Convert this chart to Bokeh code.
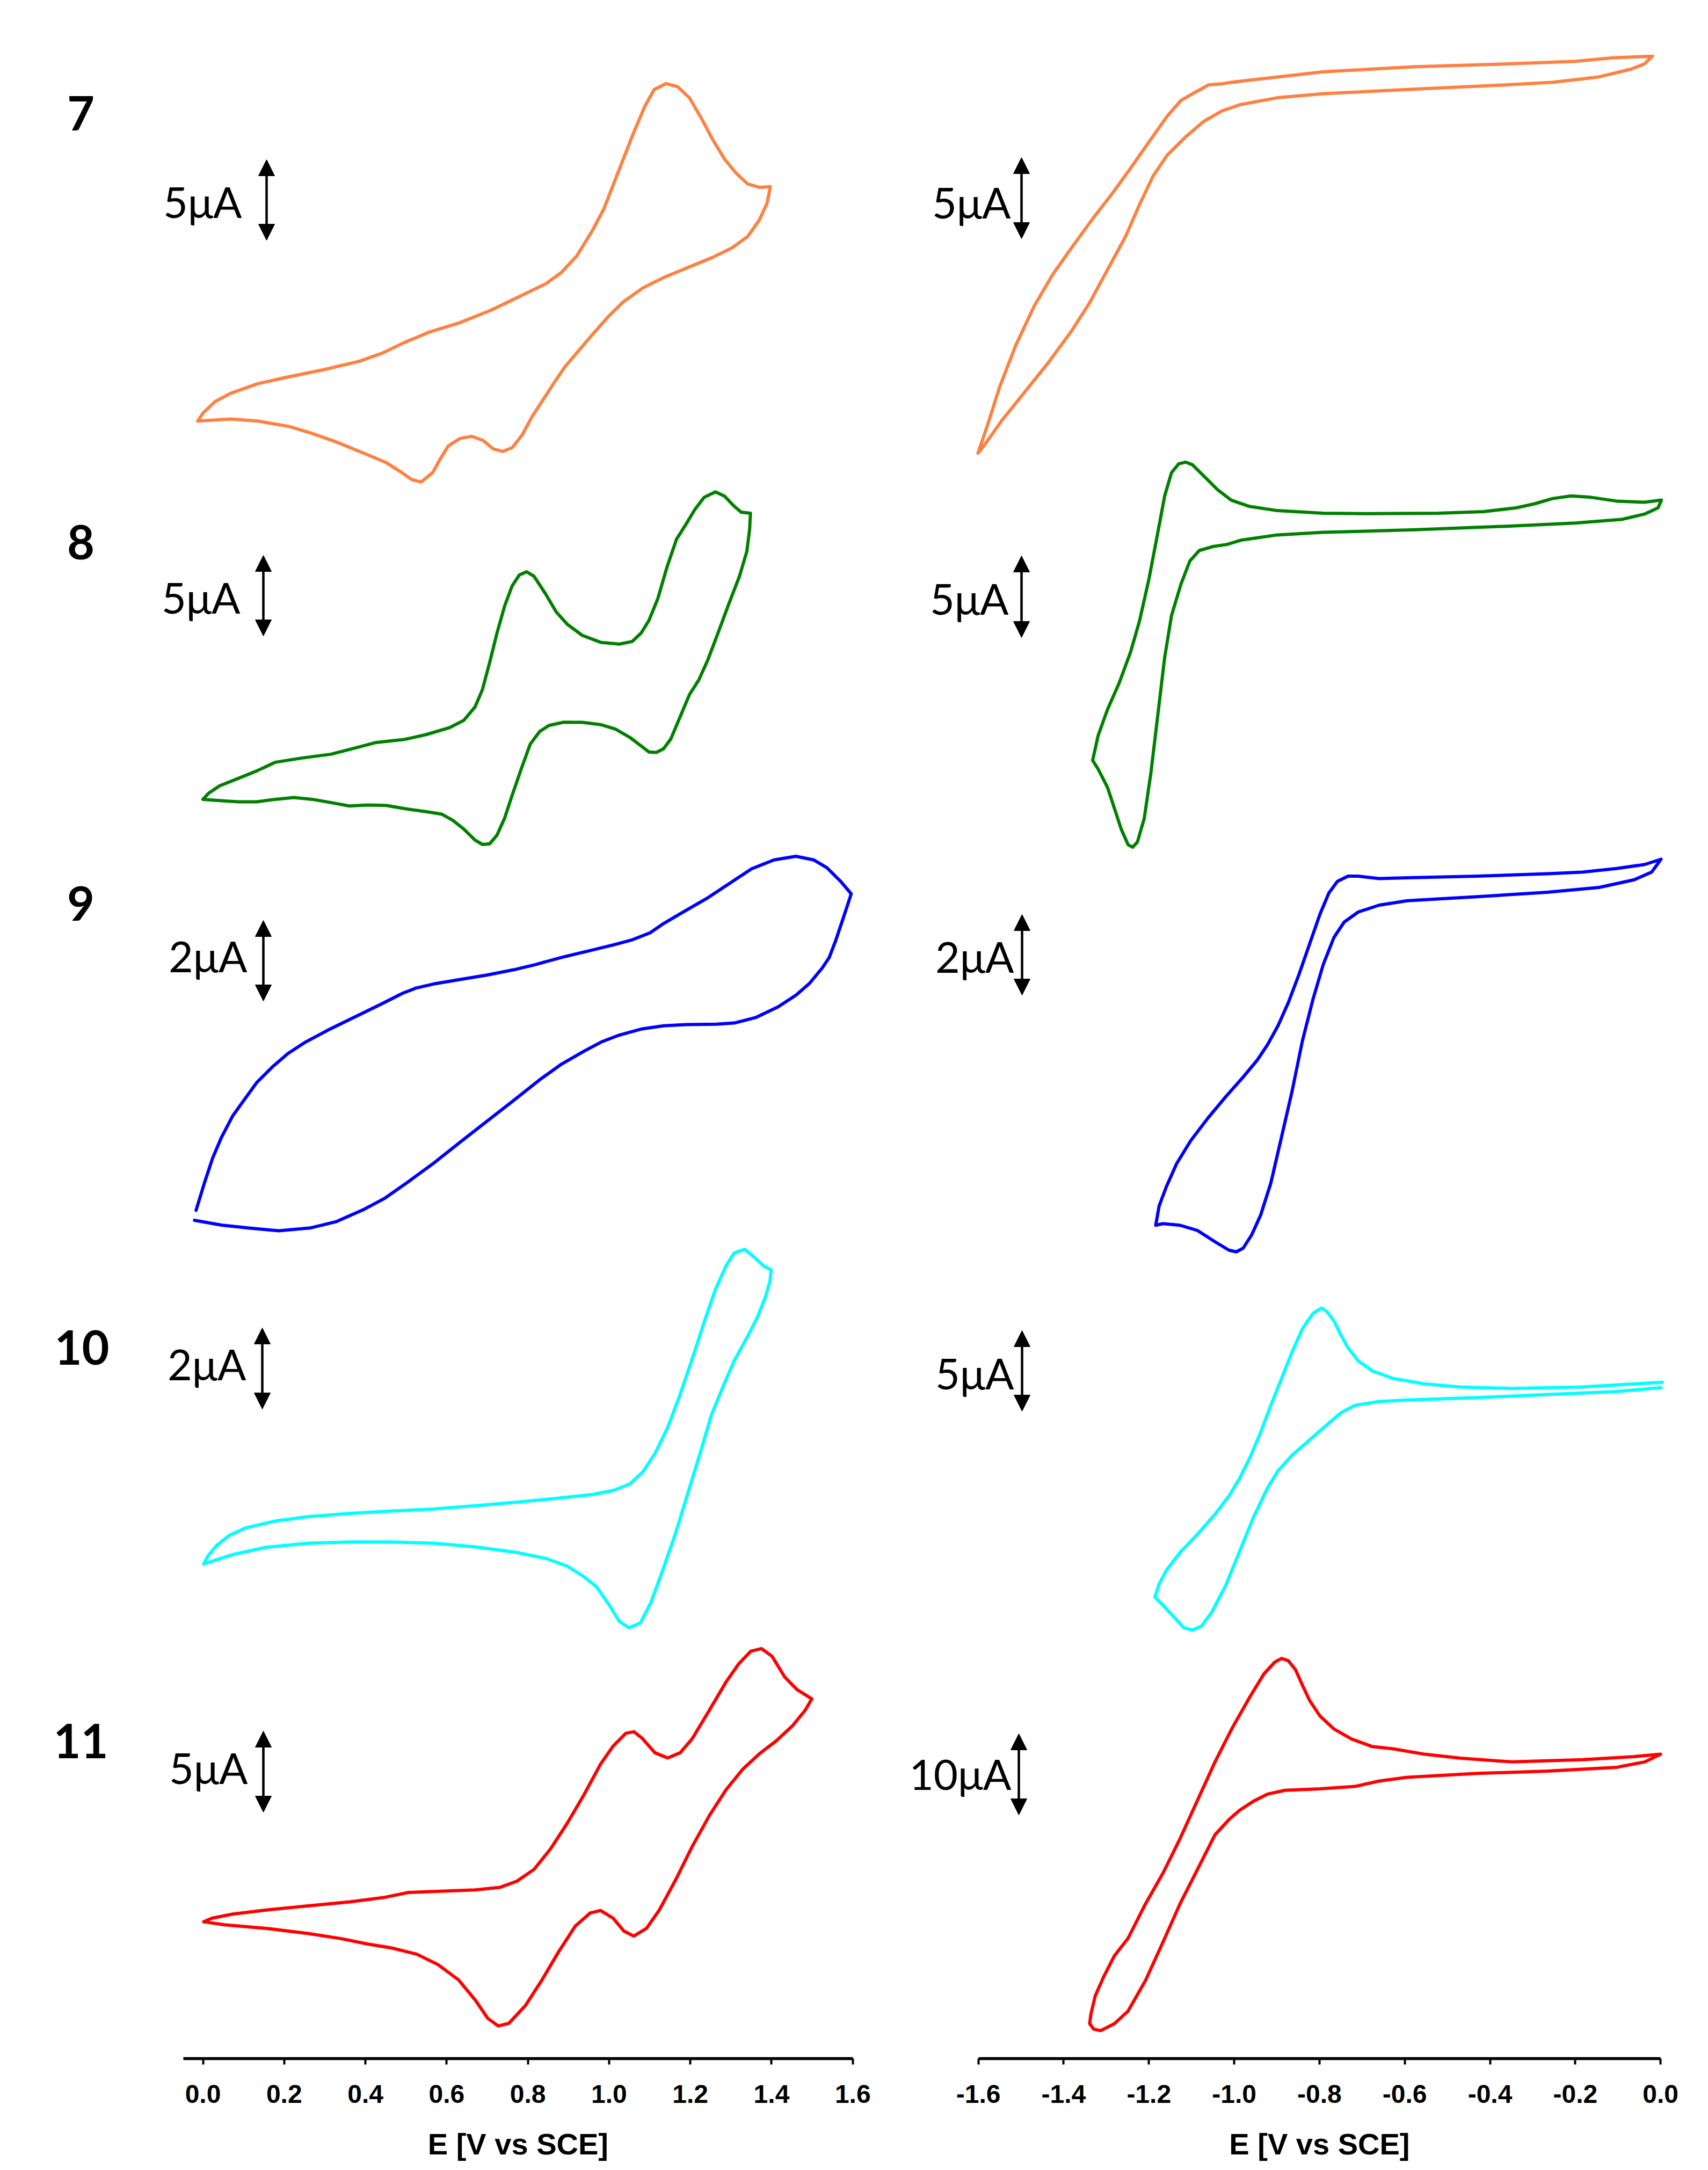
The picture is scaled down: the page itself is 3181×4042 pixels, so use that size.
from bokeh.plotting import figure
from bokeh.layouts import row, column
from bokeh.models import Range1d, FixedTicker, PrintfTickFormatter, Arrow, NormalHead
from bokeh.core.properties import value
from bokeh.embed import file_html
from bokeh.resources import INLINE

# ---------------- data: potential E (V vs SCE) and current I (uA) ----------------
# Left column: oxidation scans
E_7L = [-0.013, 0.001, 0.030, 0.068, 0.135, 0.212, 0.298, 0.384, 0.442, 0.499, 0.556, 0.633, 0.710, 0.767, 0.844, 0.882, 0.920, 0.958, 0.987, 1.011, 1.035, 1.059, 1.088, 1.111, 1.140, 1.169, 1.198, 1.226, 1.255, 1.284, 1.312, 1.341, 1.370, 1.397,
        1.389, 1.370, 1.341, 1.303, 1.255, 1.188, 1.131, 1.083, 1.035, 0.997, 0.958, 0.920, 0.891, 0.863, 0.839, 0.810, 0.786, 0.762, 0.738, 0.714, 0.690, 0.662, 0.633, 0.604, 0.585, 0.566, 0.537, 0.513, 0.489, 0.451, 0.394, 0.327, 0.269, 0.212, 0.135, 0.068, -0.013]
I_7L = [0, 0.52, 1.21, 1.72, 2.32, 2.75, 3.19, 3.70, 4.22, 4.91, 5.51, 6.11, 6.89, 7.58, 8.52, 9.21, 10.24, 11.79, 13.17, 14.72, 16.27, 17.82, 19.54, 20.58, 20.95, 20.75, 20.06, 18.85, 17.48, 16.27, 15.41, 14.72, 14.51, 14.55,
        13.52, 12.48, 11.45, 10.76, 10.16, 9.47, 8.87, 8.26, 7.40, 6.46, 5.34, 4.22, 3.36, 2.32, 1.38, 0.26, -0.86, -1.64, -1.89, -1.72, -1.21, -0.95, -1.08, -1.55, -2.32, -3.19, -3.79, -3.62, -3.19, -2.58, -1.98, -1.29, -0.77, -0.34, 0, 0.12, 0]

E_8L = [0.000, 0.014, 0.041, 0.087, 0.132, 0.178, 0.242, 0.315, 0.378, 0.424, 0.497, 0.551, 0.606, 0.642, 0.670, 0.688, 0.706, 0.724, 0.743, 0.761, 0.779, 0.797, 0.815, 0.843, 0.870, 0.897, 0.934, 0.979, 1.025, 1.057, 1.079, 1.098, 1.120, 1.143, 1.166, 1.189, 1.211, 1.234, 1.262, 1.284, 1.307, 1.325, 1.348,
        1.346, 1.339, 1.321, 1.293, 1.266, 1.243, 1.221, 1.198, 1.175, 1.152, 1.134, 1.116, 1.098, 1.080, 1.052, 1.016, 0.979, 0.934, 0.888, 0.852, 0.829, 0.806, 0.784, 0.761, 0.743, 0.724, 0.706, 0.688, 0.670, 0.642, 0.615, 0.588, 0.551, 0.497, 0.451, 0.406, 0.360, 0.315, 0.269, 0.224, 0.178, 0.132, 0.087, 0.041, 0.000]
I_8L = [0, 0.38, 0.84, 1.30, 1.76, 2.30, 2.56, 2.80, 3.21, 3.52, 3.72, 4.03, 4.44, 4.90, 5.74, 6.81, 8.50, 10.33, 12.02, 13.24, 13.93, 14.13, 13.85, 12.78, 11.63, 10.87, 10.18, 9.75, 9.64, 9.80, 10.33, 11.10, 12.47, 14.46, 16.15, 17.07, 17.99, 18.75, 19.09, 18.83, 18.22, 17.83, 17.76,
        16.76, 15.38, 13.85, 12.02, 10.18, 8.65, 7.42, 6.51, 5.13, 3.75, 3.14, 2.91, 2.94, 3.29, 3.83, 4.36, 4.64, 4.78, 4.79, 4.59, 4.21, 3.44, 1.91, 0.23, -1.15, -2.22, -2.76, -2.80, -2.53, -1.84, -1.30, -0.92, -0.77, -0.58, -0.38, -0.35, -0.41, -0.20, 0, 0.11, 0, -0.15, -0.15, -0.08, 0]

E_9L = [-0.017, 0.003, 0.024, 0.046, 0.073, 0.100, 0.133, 0.171, 0.209, 0.253, 0.307, 0.372, 0.437, 0.492, 0.525, 0.568, 0.633, 0.699, 0.764, 0.818, 0.883, 0.949, 1.014, 1.058, 1.101, 1.134, 1.188, 1.243, 1.297, 1.351, 1.406, 1.460, 1.504, 1.536, 1.569, 1.596,
        1.591, 1.574, 1.558, 1.542, 1.525, 1.493, 1.460, 1.416, 1.362, 1.308, 1.264, 1.188, 1.134, 1.079, 1.025, 0.981, 0.938, 0.883, 0.829, 0.764, 0.699, 0.633, 0.568, 0.503, 0.448, 0.394, 0.329, 0.264, 0.187, 0.111, 0.046, -0.021]
I_9L = [0.12, 0.78, 1.42, 1.94, 2.46, 2.84, 3.30, 3.68, 4.01, 4.30, 4.59, 4.91, 5.23, 5.51, 5.64, 5.74, 5.85, 5.96, 6.09, 6.22, 6.40, 6.56, 6.72, 6.84, 7.01, 7.24, 7.56, 7.88, 8.24, 8.60, 8.82, 8.91, 8.82, 8.63, 8.30, 7.98,
        7.82, 7.30, 6.82, 6.40, 6.14, 5.75, 5.46, 5.17, 4.91, 4.77, 4.74, 4.73, 4.70, 4.62, 4.47, 4.30, 4.07, 3.75, 3.36, 2.84, 2.33, 1.81, 1.29, 0.81, 0.42, 0.13, -0.16, -0.32, -0.39, -0.32, -0.25, -0.13]

E_10L = [0.002, 0.012, 0.033, 0.064, 0.105, 0.177, 0.259, 0.362, 0.465, 0.568, 0.670, 0.773, 0.876, 0.959, 1.010, 1.051, 1.082, 1.113, 1.144, 1.175, 1.205, 1.236, 1.262, 1.288, 1.308, 1.334, 1.360, 1.380, 1.399,
         1.396, 1.385, 1.365, 1.339, 1.308, 1.283, 1.252, 1.226, 1.195, 1.164, 1.133, 1.103, 1.077, 1.049, 1.025, 1.000, 0.969, 0.938, 0.897, 0.845, 0.773, 0.670, 0.568, 0.465, 0.362, 0.259, 0.156, 0.074, 0.002]
I_10L = [0, 0.19, 0.45, 0.70, 0.89, 1.06, 1.17, 1.25, 1.31, 1.36, 1.44, 1.53, 1.63, 1.72, 1.82, 1.98, 2.27, 2.74, 3.38, 4.21, 5.10, 6.06, 6.82, 7.40, 7.72, 7.81, 7.59, 7.40, 7.30,
         7.02, 6.63, 6.12, 5.61, 5.04, 4.46, 3.70, 2.81, 1.79, 0.77, -0.13, -0.96, -1.47, -1.59, -1.43, -1.02, -0.57, -0.32, -0.06, 0.13, 0.28, 0.42, 0.51, 0.54, 0.54, 0.51, 0.41, 0.23, 0]

E_11L = [0.002, 0.022, 0.074, 0.156, 0.259, 0.362, 0.444, 0.506, 0.568, 0.670, 0.732, 0.773, 0.815, 0.856, 0.897, 0.938, 0.979, 1.010, 1.041, 1.061, 1.082, 1.113, 1.144, 1.175, 1.205, 1.247, 1.288, 1.319, 1.349, 1.375, 1.401, 1.432, 1.463, 1.499,
         1.483, 1.452, 1.411, 1.370, 1.329, 1.288, 1.247, 1.205, 1.164, 1.123, 1.092, 1.061, 1.036, 1.010, 0.979, 0.953, 0.917, 0.876, 0.835, 0.794, 0.753, 0.727, 0.701, 0.671, 0.629, 0.578, 0.526, 0.465, 0.403, 0.341, 0.259, 0.156, 0.053, 0.002]
I_11L = [0, 0.22, 0.48, 0.73, 0.99, 1.24, 1.50, 1.82, 1.88, 1.98, 2.14, 2.52, 3.25, 4.53, 6.12, 7.88, 9.79, 10.91, 11.70, 11.80, 11.38, 10.49, 10.17, 10.49, 11.38, 13.14, 14.89, 16.01, 16.80, 16.96, 16.49, 15.21, 14.41, 13.84,
         13.14, 12.18, 11.22, 10.43, 9.47, 8.20, 6.60, 4.69, 2.61, 0.70, -0.41, -0.89, -0.57, 0.22, 0.70, 0.54, -0.26, -1.85, -3.60, -5.20, -6.31, -6.47, -5.99, -4.88, -3.60, -2.65, -2.01, -1.63, -1.37, -1.05, -0.73, -0.41, -0.19, 0]

# Right column: reduction scans
E_7R = [-0.019, -0.114, -0.200, -0.361, -0.576, -0.791, -1.007, -1.028, -1.060, -1.093, -1.125, -1.157, -1.200, -1.243, -1.287, -1.330, -1.383, -1.426, -1.469, -1.512, -1.550, -1.577, -1.601,
        -1.588, -1.545, -1.491, -1.437, -1.383, -1.340, -1.297, -1.254, -1.222, -1.190, -1.157, -1.114, -1.071, -1.028, -0.985, -0.899, -0.791, -0.576, -0.361, -0.253, -0.146, -0.070, -0.038, -0.019]
I_7R = [0, -0.10, -0.32, -0.48, -0.65, -0.97, -1.62, -1.71, -1.78, -2.26, -2.75, -3.72, -5.33, -6.95, -8.56, -10.02, -11.95, -13.57, -15.51, -17.93, -20.52, -22.78, -24.65,
        -24.23, -22.62, -20.84, -19.06, -17.12, -15.35, -13.25, -11.15, -9.21, -7.43, -6.14, -5.01, -4.04, -3.39, -3.00, -2.58, -2.33, -2.04, -1.78, -1.62, -1.29, -0.81, -0.48, 0]

E_8R = [0.002, -0.038, -0.103, -0.167, -0.210, -0.253, -0.296, -0.339, -0.415, -0.522, -0.684, -0.791, -0.899, -0.964, -1.007, -1.039, -1.071, -1.098, -1.114, -1.130, -1.147, -1.163, -1.179, -1.200, -1.222, -1.243, -1.270, -1.297, -1.319, -1.332,
        -1.319, -1.297, -1.281, -1.265, -1.249, -1.238, -1.227, -1.211, -1.195, -1.179, -1.163, -1.147, -1.125, -1.104, -1.082, -1.050, -1.017, -0.985, -0.899, -0.791, -0.576, -0.361, -0.200, -0.092, -0.038, -0.006, 0.002]
I_8R = [0, -0.13, -0.06, 0.19, 0.26, 0.10, -0.23, -0.48, -0.71, -0.81, -0.84, -0.81, -0.65, -0.39, 0, 0.65, 1.49, 2.20, 2.36, 2.26, 1.71, 0.26, -2.00, -4.91, -7.50, -9.43, -11.37, -12.99, -14.61, -16.16,
        -16.70, -17.84, -19.13, -20.42, -21.39, -21.55, -21.23, -19.77, -16.87, -13.31, -9.76, -7.17, -5.23, -3.78, -3.13, -2.88, -2.75, -2.49, -2.16, -2.00, -1.84, -1.62, -1.42, -1.20, -0.87, -0.48, 0]

E_9R = [0.001, -0.037, -0.103, -0.184, -0.266, -0.430, -0.594, -0.660, -0.709, -0.733, -0.758, -0.778, -0.799, -0.823, -0.848, -0.873, -0.897, -0.922, -0.946, -0.979, -1.020, -1.061, -1.102, -1.135, -1.159, -1.176, -1.184,
        -1.167, -1.127, -1.086, -1.045, -1.012, -0.995, -0.979, -0.959, -0.938, -0.914, -0.889, -0.864, -0.840, -0.815, -0.791, -0.766, -0.742, -0.709, -0.660, -0.594, -0.430, -0.266, -0.144, -0.062, -0.021, 0.001]
I_9R = [0, -0.13, -0.23, -0.32, -0.36, -0.42, -0.46, -0.48, -0.42, -0.42, -0.55, -0.84, -1.37, -2.10, -2.86, -3.56, -4.13, -4.61, -4.99, -5.41, -5.90, -6.42, -6.99, -7.56, -8.13, -8.61, -9.09,
        -9.05, -9.09, -9.22, -9.50, -9.71, -9.75, -9.66, -9.33, -8.84, -8.04, -6.90, -5.75, -4.51, -3.47, -2.61, -1.94, -1.56, -1.31, -1.14, -1.03, -0.93, -0.82, -0.70, -0.51, -0.32, 0]

E_10R = [0.004, -0.062, -0.184, -0.348, -0.471, -0.553, -0.627, -0.676, -0.709, -0.733, -0.750, -0.766, -0.782, -0.795, -0.815, -0.840, -0.864, -0.889, -0.914, -0.938, -0.963, -0.987, -1.012, -1.045, -1.086, -1.127, -1.159, -1.176, -1.186,
         -1.168, -1.143, -1.118, -1.098, -1.077, -1.053, -1.020, -0.987, -0.954, -0.922, -0.897, -0.864, -0.823, -0.782, -0.750, -0.717, -0.660, -0.594, -0.430, -0.266, -0.103, 0.001]
I_10R = [0, -0.10, -0.29, -0.38, -0.29, -0.10, 0.24, 0.71, 1.33, 2.14, 2.95, 3.81, 4.38, 4.62, 4.29, 3.33, 1.90, 0.24, -1.43, -3.10, -4.67, -5.95, -7.05, -8.19, -9.43, -10.57, -11.67, -12.52, -13.33,
         -13.81, -14.52, -15.24, -15.38, -15.14, -14.29, -12.62, -10.48, -8.33, -6.57, -5.48, -4.52, -3.57, -2.62, -1.90, -1.43, -1.19, -1.10, -0.95, -0.76, -0.57, -0.33]

E_11R = [0.000, -0.062, -0.184, -0.348, -0.471, -0.553, -0.627, -0.676, -0.725, -0.766, -0.799, -0.823, -0.840, -0.856, -0.873, -0.889, -0.905, -0.930, -0.963, -1.004, -1.045, -1.086, -1.127, -1.167, -1.208, -1.249, -1.281, -1.306, -1.326, -1.336, -1.339,
         -1.329, -1.313, -1.281, -1.249, -1.208, -1.167, -1.127, -1.086, -1.045, -1.012, -0.987, -0.954, -0.922, -0.881, -0.799, -0.717, -0.660, -0.594, -0.430, -0.266, -0.103, -0.037, 0.000]
I_11R = [0, -0.29, -0.67, -0.95, -0.48, 0, 0.67, 0.95, 1.90, 3.14, 4.76, 6.67, 8.57, 10.48, 11.62, 11.90, 11.43, 10.00, 7.14, 3.33, -0.95, -5.71, -10.48, -14.76, -18.57, -22.86, -25.04, -27.62, -30.03, -32.26, -33.46,
         -34.15, -34.32, -33.46, -31.90, -28.10, -23.33, -18.57, -14.29, -10.00, -8.10, -6.95, -5.81, -4.95, -4.48, -4.29, -4.00, -3.33, -2.86, -2.38, -2.10, -1.62, -0.95, 0]

compounds = ["7", "8", "9", "10", "11"]
left_bars = [5, 5, 2, 2, 5]      # scale bar, uA
right_bars = [5, 5, 2, 5, 10]    # scale bar, uA
ticks_left = [0.0, 0.2, 0.4, 0.6, 0.8, 1.0, 1.2, 1.4, 1.6]
ticks_right = [-1.6, -1.4, -1.2, -1.0, -0.8, -0.6, -0.4, -0.2, 0.0]
axis_title = "E [V vs SCE]"

ORANGE, GREEN, BLUE, CYAN, RED = "#FF8040", "#008000", "#0000FF", "#00FFFF", "#FF0000"
colors = [ORANGE, GREEN, BLUE, CYAN, RED]

# ---------------- layout (pixels in the page) ----------------
H_TOTAL = 4040
AX_Y = 3834            # y of the potential axis
H_MAIN = 3954          # main plots (curves + axis with tick labels)
BAR_PX = 150.0         # length of the current scale bar
SPLIT = 1650
WL, WR = SPLIT, 3181 - SPLIT

def lx(X):  # page pixel -> potential (left column)
    return (X - 377.5) / 756.4

def rx(X):  # page pixel -> potential (right column)
    return -1.6 + (X - 1821.6) / 794.1

left_zero = [783.7, 1488.4, 2262.8, 2912.3, 3579.1]
right_zero = [104.2, 931.1, 1600.0, 2574.3, 3267.1]

left_bar_pos = [(496, 297, 447), (490, 1034, 1184), (490, 1714, 1864), (488, 2473, 2624), (490, 3224, 3375)]
right_bar_pos = [(1902, 293, 444), (1902, 1035, 1187), (1903, 1703, 1853), (1903, 2478, 2628), (1897, 3229, 3380)]
left_lab_pos = [(450, 375), (447, 1112), (460, 1780), (458, 2540), (461, 3292)]
right_lab_pos = [(1882, 376), (1878, 1114), (1888, 1781), (1888, 2557), (1883, 3303)]
num_pos = [(150, 210), (150, 1009), (150, 1682), (152, 2509), (150, 3242)]


def make_fig(width, xr, ticks, bounds):
    p = figure(width=width, height=H_MAIN, x_range=Range1d(*xr), y_range=Range1d(AX_Y, 0),
               output_backend="svg", toolbar_location=None, y_axis_location=None,
               min_border=0, min_border_bottom=H_MAIN - AX_Y)
    p.grid.visible = False
    p.outline_line_color = None
    p.background_fill_color = "white"
    p.border_fill_color = "white"
    ax = p.xaxis[0]
    ax.ticker = FixedTicker(ticks=ticks)
    ax.formatter = PrintfTickFormatter(format="%.1f")
    ax.bounds = bounds
    ax.axis_line_width = 5.5
    ax.axis_line_color = "black"
    ax.major_tick_line_width = 4
    ax.major_tick_line_color = "black"
    ax.major_tick_out = 11
    ax.major_tick_in = 0
    ax.minor_tick_line_color = None
    ax.major_label_text_font = "Liberation Sans"
    ax.major_label_text_font_style = "bold"
    ax.major_label_text_font_size = "48px"
    ax.major_label_text_color = "black"
    ax.major_label_standoff = 38
    return p


def make_title_fig(width, xr, bounds):
    # strip under each axis holding its title, centred on the axis line
    t = figure(width=width, height=H_TOTAL - H_MAIN, x_range=Range1d(*xr),
               y_range=Range1d(H_TOTAL, H_MAIN), output_backend="svg", toolbar_location=None,
               x_axis_location=None, y_axis_location=None, min_border=0)
    t.grid.visible = False
    t.outline_line_color = None
    t.background_fill_color = "white"
    t.border_fill_color = "white"
    t.text(x=[(bounds[0] + bounds[1]) / 2], y=[3993], text=[axis_title],
           text_font=value("Liberation Sans"), text_font_style="bold",
           text_font_size="56px", text_color="black",
           text_align="center", text_baseline="middle")
    return t


xr_left = (lx(0), lx(WL))
xr_right = (rx(SPLIT), rx(SPLIT + WR))
b_left = (lx(341), 1.6)
b_right = (-1.6, 0.0)

pl = make_fig(WL, xr_left, ticks_left, b_left)
pr = make_fig(WR, xr_right, ticks_right, b_right)
tl = make_title_fig(WL, xr_left, b_left)
tr = make_title_fig(WR, xr_right, b_right)

left_E = [E_7L, E_8L, E_9L, E_10L, E_11L]
left_I = [I_7L, I_8L, I_9L, I_10L, I_11L]
right_E = [E_7R, E_8R, E_9R, E_10R, E_11R]
right_I = [I_7R, I_8R, I_9R, I_10R, I_11R]

for p, Es, Is, zeros, bars, conv, bpos, lpos in [
        (pl, left_E, left_I, left_zero, left_bars, lx, left_bar_pos, left_lab_pos),
        (pr, right_E, right_I, right_zero, right_bars, rx, right_bar_pos, right_lab_pos)]:
    for E, I, y0, bar, col, (bx, by0, by1), (tx, ty) in zip(Es, Is, zeros, bars, colors, bpos, lpos):
        ppu = BAR_PX / bar
        y = [y0 - v * ppu for v in I]
        p.line(E, y, line_color=col, line_width=6, line_join="round", line_cap="round")
        p.add_layout(Arrow(start=NormalHead(size=30, fill_color="black", line_color="black", line_width=1),
                           end=NormalHead(size=30, fill_color="black", line_color="black", line_width=1),
                           x_start=conv(bx), y_start=by1, x_end=conv(bx), y_end=by0,
                           line_width=4.5, line_color="black"))
        p.text(x=[conv(tx)], y=[ty], text=[f"{bar}\u03bcA"], text_font=value("Lato"),
               text_font_size="79px" if bar < 10 else "78px", text_align="right",
               text_baseline="middle", text_color="black")

pl.text(x=[lx(x) for x, _ in num_pos], y=[y for _, y in num_pos], text=compounds,
        text_font=value("Lato"), text_font_style="bold", text_font_size="88px",
        text_align="center", text_baseline="middle", text_color="black")

layout = column(row(pl, pr), row(tl, tr))
open("out.html", "w").write(file_html(layout, INLINE))
